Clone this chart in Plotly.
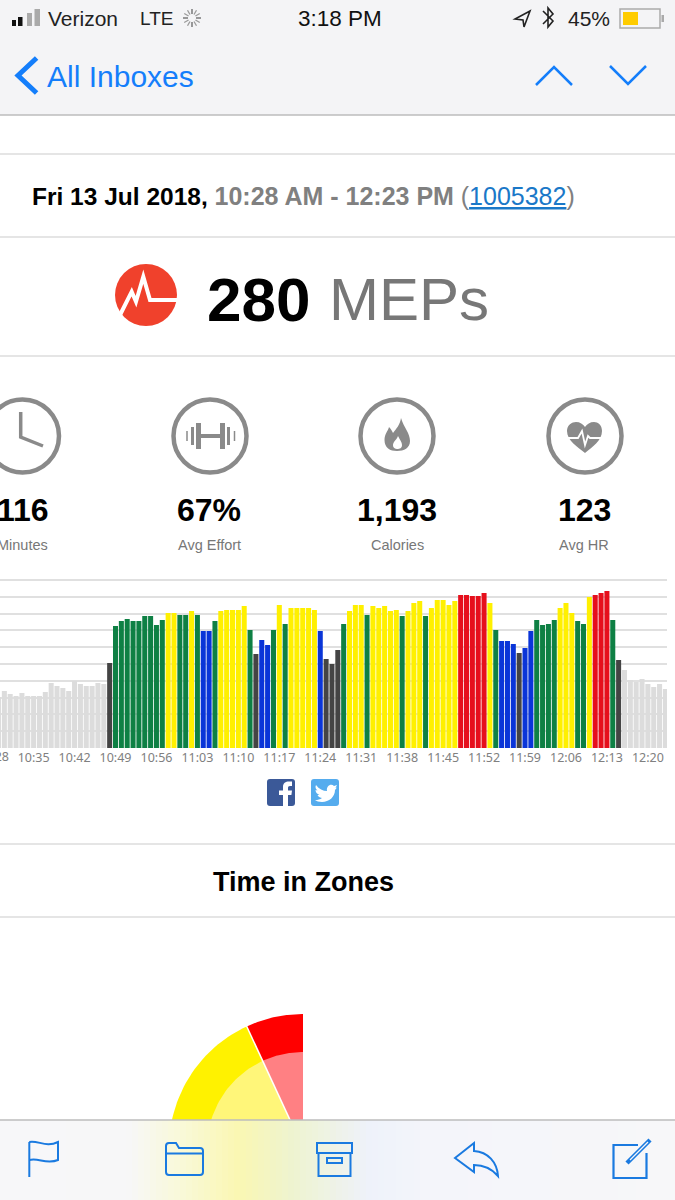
import math
import plotly.graph_objects as go

# heart rate bars, one per minute from 10:28 to 12:23
hr_values = [
    53, 51, 57, 54, 52, 55, 52, 52, 52, 56, 65, 62, 60, 57, 67, 64, 62, 62, 65, 64, 85,
    122, 127, 129, 127, 127, 132, 132, 123, 128, 135, 135, 133, 133, 137, 133, 117, 117, 127,
    137, 138, 138, 138, 142, 118, 94, 108, 103, 118, 143, 124, 140, 140, 140, 140, 138, 117,
    89, 84, 98, 124, 137, 143, 143, 133, 142, 140, 142, 137, 138, 132, 137, 145, 147, 132,
    140, 148, 148, 143, 147, 153, 153, 152, 152, 155, 145, 118, 107, 107, 104, 95, 100, 117,
    128, 123, 124, 128, 140, 145, 135, 127, 124, 151, 153, 155, 157, 128, 88, 78, 68, 66,
    69, 64, 61, 64, 59,
]
# zone of each bar: w=warm up, k=dark, g=green, b=blue, y=yellow, r=red
hr_zones = list(
    "wwwwwwwwwwwwwwwwwwww" "k"
    "ggggggggg" "yy" "gg" "y" "g" "bb" "g" "yyyyy" "g" "k" "bb" "g" "y" "g" "yyyy" "y" "b" "kkk"
    "g" "yyy" "g" "yyyyy" "g" "yyy" "g" "yyyyy"
    "rrrrr" "y" "g" "bbb" "k" "bb" "gggg" "yyy" "gg" "y" "rrr" "g" "k" "wwwwwwww"
)
zone_colors = {"w": "#dcdcdc", "k": "#444444", "g": "#0e8044", "b": "#0a35d8", "y": "#fff000", "r": "#e60f1c"}
tick_labels = ["10:35", "10:42", "10:49", "10:56", "11:03", "11:10", "11:17", "11:24", "11:31", "11:38",
               "11:45", "11:52", "11:59", "12:06", "12:13", "12:20"]
grid_levels = [0, 16.8, 33.6, 50.4, 67.2, 84, 100.8, 117.6, 134.4, 151.2, 168]
minutes = [f"{(628 + i) // 60}:{(628 + i) % 60:02d}" for i in range(len(hr_values))]

stat_values = ["116", "67%", "1,193", "123"]
stat_names = ["Minutes", "Avg Effort", "Calories", "Avg HR"]

# time in zones, counted from the bars above; the pie starts at 12 o'clock and runs counter clockwise
pie_zones = ["r", "y"]
pie_minutes = [hr_zones.count("r"), hr_zones.count("y")]
ring_colors = {"r": "#ff0000", "y": "#fff200"}
inner_colors = {"r": "#ff8083", "y": "#fff679"}

fig = go.Figure()
fig.add_trace(go.Bar(x=minutes, y=hr_values, marker=dict(color=[zone_colors[z] for z in hr_zones], line_width=0),
                     hoverinfo="x+y", showlegend=False))

PIE_X, PIE_Y = 303, 1148


def wedge(start, end, radius, color):
    """Filled pie slice, angles in degrees counter clockwise from the top."""
    steps = [start + (end - start) * n / 60 for n in range(61)]
    xs = [PIE_X] + [PIE_X - radius * math.sin(math.radians(a)) for a in steps] + [PIE_X]
    ys = [PIE_Y] + [PIE_Y - radius * math.cos(math.radians(a)) for a in steps] + [PIE_Y]
    fig.add_trace(go.Scatter(x=xs, y=ys, xaxis="x2", yaxis="y2", mode="lines", fill="toself", fillcolor=color,
                             line=dict(color=color, width=0), hoverinfo="skip", showlegend=False))


total = len(hr_values)
angle = 0
cuts = []
for zone, count in zip(pie_zones, pie_minutes):
    sweep = 360 * count / total
    wedge(angle, angle + sweep, 134, ring_colors[zone])
    wedge(angle, angle + sweep, 96, inner_colors[zone])
    angle += sweep
    cuts.append(angle)
# white line between the slices
for a in cuts:
    fig.add_trace(go.Scatter(x=[PIE_X, PIE_X - 135 * math.sin(math.radians(a))],
                             y=[PIE_Y, PIE_Y - 135 * math.cos(math.radians(a))], xaxis="x2", yaxis="y2", mode="lines",
                             line=dict(color="white", width=1.5), hoverinfo="skip", showlegend=False))

shapes = []
notes = []


def rect(x0, y0, x1, y1, fill, line=None, width=0, layer="above"):
    shapes.append(dict(type="rect", xref="x3", yref="y3", x0=x0, y0=y0, x1=x1, y1=y1, fillcolor=fill, layer=layer,
                       line=dict(color=line or fill, width=width)))


def stroke(pts, color, width, close=False):
    d = "M" + " L".join(f"{x},{y}" for x, y in pts) + (" Z" if close else "")
    shapes.append(dict(type="path", xref="x3", yref="y3", path=d, layer="above", line=dict(color=color, width=width)))


def svg(d, fill=None, line=None, width=0):
    shapes.append(dict(type="path", xref="x3", yref="y3", path=d, layer="above", fillcolor=fill or "rgba(0,0,0,0)",
                       line=dict(color=line or "rgba(0,0,0,0)", width=width)))


def circle(cx, cy, r, fill=None, line=None, width=0):
    shapes.append(dict(type="circle", xref="x3", yref="y3", x0=cx - r, y0=cy - r, x1=cx + r, y1=cy + r, layer="above",
                       fillcolor=fill or "rgba(0,0,0,0)", line=dict(color=line or "rgba(0,0,0,0)", width=width)))


def text(x, y, s, size, color="#000000", anchor="center", family="Liberation Sans"):
    # annotations carry about 2px of padding on the left
    if anchor == "left":
        x -= 2
    notes.append(dict(xref="x3", yref="y3", x=x, y=y, text=s, showarrow=False, xanchor=anchor, yanchor="middle",
                      font=dict(family=family, size=size, color=color)))


# header
blue = "#147efb"
rect(0, 0, 675, 115, "#f4f4f6")
stroke([(0, 115), (675, 115)], "#bcbcbc", 1.5)
for y in [154, 237, 356, 844, 917]:
    stroke([(0, y), (675, y)], "#dddddd", 1.5)
for x0, x1, top, col in [(12, 16, 20, "#111111"), (18, 22.5, 17, "#111111"), (27, 32, 13, "#aaaaaa"), (34.5, 40, 9, "#aaaaaa")]:
    rect(x0, top, x1, 26, col)
text(48, 18, "Verizon", 21, "#222222", "left")
text(140, 18, "LTE", 19, "#222222", "left")
for n in range(12):
    a = math.radians(30 * n)
    stroke([(192 + 4 * math.sin(a), 18 - 4 * math.cos(a)), (192 + 9 * math.sin(a), 18 - 9 * math.cos(a))],
           "#9a9a9a" if n % 3 else "#666666", 1.3)
text(340, 18, "3:18 PM", 22.5, "#111111", family="Liberation Sans")
svg("M530,11 L515,19 L523,20 L524,27 Z", line="#222222", width=1.6)
stroke([(543, 11), (553, 21), (548, 27), (548, 8), (553, 14), (543, 24)], "#222222", 1.6)
text(589, 18, "45%", 21, "#222222")
shapes.append(dict(type="rect", xref="x3", yref="y3", x0=620, y0=9, x1=660, y1=28, layer="above",
                   line=dict(color="#aaaaaa", width=1.5)))
rect(623, 12, 638, 25, "#ffcc00")
rect(661.5, 15, 664, 22, "#aaaaaa")
stroke([(36.6, 58), (18, 75.5), (36.6, 93)], blue, 5)
text(47, 76, "All Inboxes", 30, blue, "left")
stroke([(536, 85), (554, 67), (572, 85)], blue, 2.5)
stroke([(610, 66), (628, 84), (646, 66)], blue, 2.5)

# session line
text(32, 196, "<b>Fri 13 Jul 2018,</b> <b style='color:#808080;font-size:25px'>10:28 AM - 12:23 PM</b> "
              "<span style='color:#808080;font-size:25px'>(</span><span style='color:#1a78c8;font-size:25px'><u>1005382</u></span>"
              "<span style='color:#808080;font-size:25px'>)</span>", 24.5, "#000000", "left")

# MEPs
circle(146, 295, 31, fill="#f0412c")
stroke([(120, 315), (131.7, 291.7), (136, 301.7), (143.3, 276.7), (150, 300), (177, 300)], "#ffffff", 4)
text(207, 299, "<b>280</b>", 62, "#000000", "left")
text(329, 299, "MEPs", 60, "#777777", "left")

# stat icons
grey = "#8a8a8a"
for cx, tx, value, name in zip([22.5, 210, 397, 585], [22.5, 209, 397, 584], stat_values, stat_names):
    circle(cx, 436, 36.5, line=grey, width=4.5)
    text(tx, 510, f"<b>{value}</b>", 32)
    text(tx, 545, name, 14.5, "#777777")
stroke([(20.7, 412), (20.7, 437), (43, 446)], grey, 3.5)
stroke([(197, 436), (224, 436)], grey, 4)
for x, half, w in [(198.5, 13, 5), (222.5, 13, 5), (192.5, 9, 3), (228.5, 9, 3), (187, 5, 1.5), (234.5, 5, 1.5)]:
    stroke([(x, 436 - half), (x, 436 + half)], grey, w)
svg("M401,418 C404,428 410,433 410,441 C410,448 404,451 397,451 C390,451 384.5,448 384.5,440 C384.5,434 388,431 389,427 "
    "C391,429 392,431 393,433 C396,429 400,425 401,418 Z", fill=grey)
svg("M397,449 C393,449 392,445 394,442 C395,440 397,439 398,436 C400,440 402,442 402,445 C402,448 400,449 397,449 Z", fill="#ffffff")
svg("M585,453 C578,447 567,441 567,431 C567,425 572,422 576,422 C580,422 583,424 585,427 C587,424 590,422 594,422 "
    "C598,422 602,425 602,431 C602,441 592,447 585,453 Z", fill=grey)
stroke([(566, 438), (578, 438), (582, 431), (585, 445), (588, 436), (590, 438), (604, 438)], "#ffffff", 1.8)


# social buttons
def rounded(x0, y0, x1, y1, r, fill):
    svg(f"M{x0 + r},{y0} L{x1 - r},{y0} Q{x1},{y0} {x1},{y0 + r} L{x1},{y1 - r} Q{x1},{y1} {x1 - r},{y1} "
        f"L{x0 + r},{y1} Q{x0},{y1} {x0},{y1 - r} L{x0},{y0 + r} Q{x0},{y0} {x0 + r},{y0} Z", fill=fill)


rounded(267, 779, 295, 806, 3, "#3b5998")
svg("M283,806 L283,795 L279,795 L279,790.5 L283,790.5 L283,787 C283,783 285.5,781.5 289,781.5 L292,781.5 L292,786 "
    "L290,786 C288.5,786 288,786.8 288,788 L288,790.5 L292,790.5 L291.4,795 L288,795 L288,806 Z", fill="#ffffff")
rounded(311, 779, 339, 806, 3, "#55acee")
svg("M316,785 C319,789 323,791 327,791 C326,786 331,783 334,786 L337,785 L335.5,788 L337,787.5 L335,790 "
    "C335,797 329,802 322,802 C319,802 316.5,801 315,800 C318,800 320,799.5 322,798 C319,797.5 318,796 317.5,795 "
    "L319.5,795 C317,794 315.5,792 315.5,790 L317.5,790.5 C315.5,789 315,787 316,785 Z", fill="#ffffff")

text(303, 882, "<b>Time in Zones</b>", 27, "#000000")
# the 10:28 label runs off the left edge, only its last digits show
text(11, 756, "10:28", 12.5, "#808080", "right", family="Noto Sans")

# bottom toolbar, faint colours showing through it
band = [(0, (247, 247, 249)), (125, (247, 247, 248)), (175, (249, 249, 218)), (235, (250, 247, 178)),
        (290, (238, 243, 208)), (365, (238, 242, 250)), (425, (244, 245, 250)), (675, (247, 247, 249))]
for x in range(0, 675, 6):
    for (x0, c0), (x1, c1) in zip(band, band[1:]):
        if x0 <= x < x1:
            t = (x - x0) / (x1 - x0)
            col = "rgb(%d,%d,%d)" % tuple(round(a + (b - a) * t) for a, b in zip(c0, c1))
            rect(x, 1120, x + 6.5, 1200, col)
stroke([(0, 1120), (675, 1120)], "#bcbcbc", 1.5)
tb = "#1a7ae0"
stroke([(29.3, 1142), (29.3, 1177)], tb, 2)
svg("M29.3,1142 C38,1140 46,1148 58,1142 L58,1160 C46,1165 38,1157 29.3,1160", line=tb, width=2)
svg("M166,1146 Q166,1143 169,1143 L176,1143 L179,1148 L200,1148 Q203,1148 203,1151 L203,1172 Q203,1175 200,1175 "
    "L169,1175 Q166,1175 166,1172 Z", line=tb, width=2)
stroke([(166, 1153.5), (203, 1153.5)], tb, 2)
rect(317, 1143, 352, 1153, "rgba(0,0,0,0)", tb, 2)
stroke([(318.5, 1153), (318.5, 1176), (350.5, 1176), (350.5, 1153)], tb, 2)
rect(327, 1158, 342, 1163, "rgba(0,0,0,0)", tb, 2)
svg("M455,1158 L474,1143 L474,1151 C488,1152 497,1162 498,1176 C492,1169 484,1165 474,1165 L474,1172 Z", line=tb, width=2)
stroke([(638, 1145), (613.5, 1145), (613.5, 1178), (646.5, 1178), (646.5, 1153)], tb, 2.2)
stroke([(627, 1163), (650, 1140)], tb, 4.5)
stroke([(630, 1160), (648, 1142)], "#f6f6f9", 1.2)

fig.update_layout(
    width=675, height=1200, margin=dict(l=0, r=0, t=0, b=0), paper_bgcolor="white", plot_bgcolor="rgba(0,0,0,0)",
    bargap=0.14, showlegend=False, shapes=shapes, annotations=notes,
    xaxis=dict(domain=[0, 667 / 675], range=[1.256, 115.27], type="category", tickmode="array", tickvals=tick_labels,
               ticktext=tick_labels, showgrid=False, ticks="", showline=False, zeroline=False,
               tickfont=dict(family="Noto Sans", size=12.5, color="#808080"), tickangle=0),
    yaxis=dict(domain=[1 - 748 / 1200, 1 - 570 / 1200], range=[0, 178], tickmode="array",
               tickvals=grid_levels, showticklabels=False, gridcolor="#e0e0e0", gridwidth=1.5,
               zeroline=False, showline=False),
    xaxis2=dict(domain=[0, 303 / 675], range=[0, 303], visible=False, anchor="y2"),
    yaxis2=dict(domain=[1 - 1120 / 1200, 1 - 917 / 1200], range=[1120, 917], visible=False, anchor="x2"),
    xaxis3=dict(domain=[0, 1], range=[0, 675], visible=False, anchor="y3"),
    yaxis3=dict(domain=[0, 1], range=[1200, 0], visible=False, anchor="x3"),
)

fig.write_html("out.html", config=dict(displayModeBar=False),
               post_script="document.body.style.margin='0';document.body.style.overflow='hidden';")
